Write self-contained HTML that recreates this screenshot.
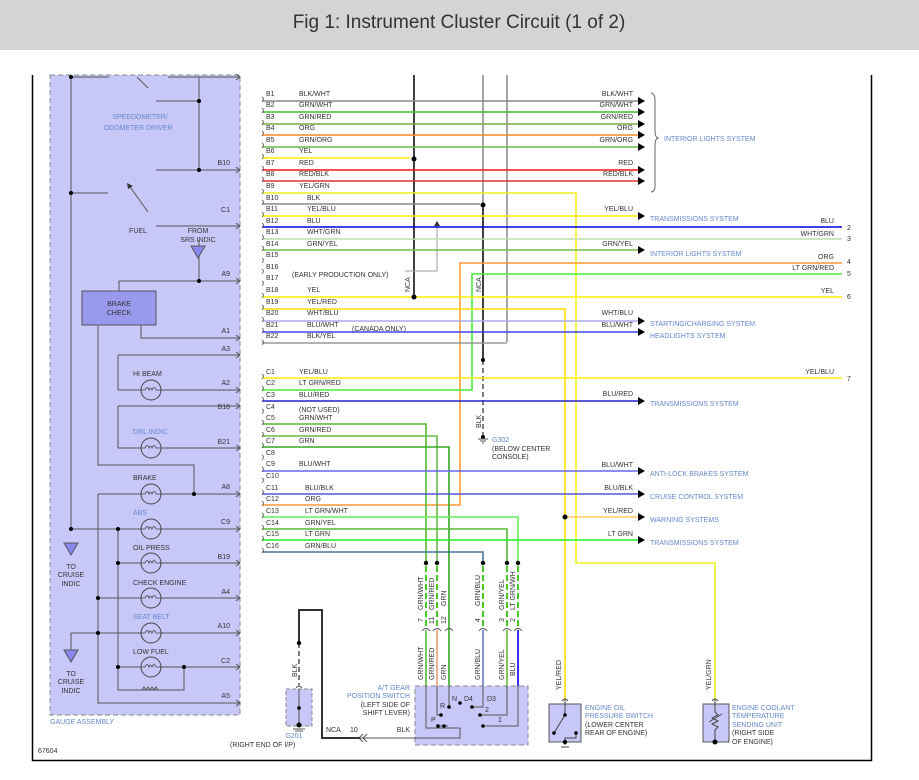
<!DOCTYPE html>
<html><head><meta charset="utf-8"><style>
html,body{margin:0;padding:0;background:#fff;}
svg{display:block;font-family:"Liberation Sans",sans-serif;}
.t{font-size:7px;fill:#333;}
.s{font-size:7px;fill:#6688cc;}
.g{font-size:7px;fill:#555;}
</style></head><body>
<svg width="919" height="780" viewBox="0 0 919 780" xmlns="http://www.w3.org/2000/svg">
<rect x="0" y="0" width="919" height="50" fill="#d4d4d4"/>
<text x="459" y="28" text-anchor="middle" style="font-size:19px;fill:#333">Fig 1: Instrument Cluster Circuit (1 of 2)</text>
<path d="M32.5,75 V760.5 H871.5 V75" fill="none" stroke="#000" stroke-width="1.5"/>
<rect x="50" y="75" width="190" height="640" fill="#c8c8f8" stroke="#888" stroke-dasharray="5,3"/>
<text x="50" y="724" class="s">GAUGE ASSEMBLY</text>
<text x="38" y="753" class="t">67604</text>
<g stroke="#555" stroke-width="1" fill="none">
<path d="M71,77 V530 M71,77 H109 M137,77 L148,88 M168,77 H240 M199,77 V170 M156,101 H199 M156,170 H240 M71,193 H108 M156,226 H240"/>
<path d="M148,212 L128,184"/>
<path d="M199,240 V281 M119,281 H240 M119,281 V291 M141,325 V338 H240 M118,355 H240 M118,355 V390 H240 M118,406 H240 M118,406 V448 H240 M98,325 V465 H194 V494 M98,494 H240 M98,494 V703 H240 M71,529 H240 M118,529 V667 M118,563 H240 M98,598 H240 M71,633 H240 M71,633 V650 M118,667 H240 M118,667 V690 H184 V667"/>
</g>
<path d="M127,183 l1,6 l5,-3z" fill="#333"/>
<g fill="#000"><circle cx="71" cy="77" r="2"/><circle cx="199" cy="101" r="2"/><circle cx="199" cy="170" r="2"/><circle cx="71" cy="193" r="2"/><circle cx="199" cy="281" r="2"/><circle cx="194" cy="494" r="2"/><circle cx="71" cy="529" r="2"/><circle cx="118" cy="529" r="2"/><circle cx="118" cy="563" r="2"/><circle cx="98" cy="598" r="2"/><circle cx="98" cy="633" r="2"/><circle cx="118" cy="667" r="2"/><circle cx="184" cy="667" r="2"/></g>
<path d="M142,690 l2,-3 l2,3 l2,-3 l2,3 l2,-3 l2,3 l2,-3 l2,3" fill="none" stroke="#555"/>
<g stroke="#555" fill="none"><path d="M236,74 l4,3 l-4,3 M236,167 l4,3 l-4,3 M236,223 l4,3 l-4,3 M236,278 l4,3 l-4,3 M236,335 l4,3 l-4,3 M236,352 l4,3 l-4,3 M236,387 l4,3 l-4,3 M236,403 l4,3 l-4,3 M236,445 l4,3 l-4,3 M236,491 l4,3 l-4,3 M236,526 l4,3 l-4,3 M236,560 l4,3 l-4,3 M236,595 l4,3 l-4,3 M236,630 l4,3 l-4,3 M236,664 l4,3 l-4,3 M236,700 l4,3 l-4,3"/></g>
<g class="t" text-anchor="end"><text x="230" y="165">B10</text><text x="230" y="212">C1</text><text x="230" y="276">A9</text><text x="230" y="333">A1</text><text x="230" y="351">A3</text><text x="230" y="385">A2</text><text x="230" y="409">B18</text><text x="230" y="444">B21</text><text x="230" y="489">A8</text><text x="230" y="524">C9</text><text x="230" y="559">B19</text><text x="230" y="594">A4</text><text x="230" y="628">A10</text><text x="230" y="663">C2</text><text x="230" y="698">A5</text></g>
<text x="140" y="119" class="s" text-anchor="middle">SPEEDOMETER/</text>
<text x="138" y="130" class="s" text-anchor="middle">ODOMETER DRIVER</text>
<text x="138" y="233" class="t" text-anchor="middle">FUEL</text>
<text x="198" y="233" class="t" text-anchor="middle">FROM</text>
<text x="198" y="242" class="t" text-anchor="middle">SRS INDIC</text>
<path d="M191,246 h14 l-7,12z" fill="#8888ee" stroke="#555"/>
<rect x="82" y="291" width="74" height="34" fill="#9999ee" stroke="#555"/>
<text x="119" y="306" class="t" text-anchor="middle">BRAKE</text><text x="119" y="315" class="t" text-anchor="middle">CHECK</text>
<g fill="#c8c8f8" stroke="#444"><circle cx="151" cy="390" r="10"/><circle cx="151" cy="448" r="10"/><circle cx="151" cy="494" r="10"/><circle cx="151" cy="529" r="10"/><circle cx="151" cy="563" r="10"/><circle cx="151" cy="598" r="10"/><circle cx="151" cy="633" r="10"/><circle cx="151" cy="667" r="10"/></g>
<g fill="none" stroke="#444" stroke-width="0.8">
<path d="M141,390 h4 q2,-5 4,0 q1,-4 3,0 q2,-5 4,0 h5 M141,448 h4 q2,-5 4,0 q1,-4 3,0 q2,-5 4,0 h5 M141,494 h4 q2,-5 4,0 q1,-4 3,0 q2,-5 4,0 h5 M141,529 h4 q2,-5 4,0 q1,-4 3,0 q2,-5 4,0 h5 M141,563 h4 q2,-5 4,0 q1,-4 3,0 q2,-5 4,0 h5 M141,598 h4 q2,-5 4,0 q1,-4 3,0 q2,-5 4,0 h5 M141,633 h4 q2,-5 4,0 q1,-4 3,0 q2,-5 4,0 h5 M141,667 h4 q2,-5 4,0 q1,-4 3,0 q2,-5 4,0 h5"/>
</g>
<g class="t"><text x="133" y="376">HI BEAM</text><text x="133" y="434" class="s">DRL INDIC</text><text x="133" y="480">BRAKE</text><text x="133" y="515" class="s">ABS</text><text x="133" y="550">OIL PRESS</text><text x="133" y="585">CHECK ENGINE</text><text x="133" y="619" class="s">SEAT BELT</text><text x="133" y="654">LOW FUEL</text></g>
<path d="M64,543 h14 l-7,12z" fill="#8888ee" stroke="#555"/>
<text x="71" y="569" class="t" text-anchor="middle">TO</text><text x="71" y="577" class="t" text-anchor="middle">CRUISE</text><text x="71" y="586" class="t" text-anchor="middle">INDIC</text>
<path d="M64,650 h14 l-7,12z" fill="#8888ee" stroke="#555"/>
<text x="71" y="676" class="t" text-anchor="middle">TO</text><text x="71" y="684" class="t" text-anchor="middle">CRUISE</text><text x="71" y="693" class="t" text-anchor="middle">INDIC</text>

<g fill="none" stroke-width="1.5">
<path d="M414,75 V298" stroke="#000"/>
<path d="M483,75 V205" stroke="#888"/>
<path d="M483,205 V360" stroke="#000"/>
<path d="M483,360 V435" stroke="#555" stroke-dasharray="5,3"/>
<path d="M507,75 V342" stroke="#888"/>
<path d="M405,271 H437 V224" stroke="#999" stroke-width="1"/>
</g>
<path d="M434,226 l3,-5 l3,5z" fill="#333"/>
<g fill="none" stroke-width="1.6">
<path d="M262,101 H640" stroke="#888"/>
<path d="M262,112 H640" stroke="#44bb33"/>
<path d="M262,124 H640" stroke="#77aa44"/>
<path d="M262,135 H640" stroke="#ff8a22"/>
<path d="M262,147 H640" stroke="#66bb44"/>
<path d="M262,158 H410" stroke="#ffee00"/>
<path d="M262,170 H640" stroke="#ff1111"/>
<path d="M262,181 H640" stroke="#dd3333"/>
<path d="M262,193 H576 V563 H715 V700" stroke="#eeee22"/>
<path d="M262,204 H480" stroke="#888"/>
<path d="M262,216 H640" stroke="#ffee00"/>
<path d="M262,227 H842" stroke="#0000ee"/>
<path d="M262,239 H842" stroke="#bbddaa"/>
<path d="M262,250 H640" stroke="#77bb44"/>
<path d="M842,263 H460 V505 H262" stroke="#ff9933"/>
<path d="M842,274 H472 V390 H262" stroke="#44ee33"/>
<path d="M262,297 H842" stroke="#ffee00"/>
<path d="M262,309 H565 V700" stroke="#ffdd00"/>
<path d="M565,517 H640" stroke="#ffcc66"/>
<path d="M262,321 H640" stroke="#aaaaee"/>
<path d="M262,332 H640" stroke="#4444ee"/>
<path d="M262,343 H507" stroke="#999"/>
<path d="M262,378 H842" stroke="#ffee00"/>
<path d="M262,401 H640" stroke="#2222cc"/>
<path d="M262,424 H426 V563" stroke="#55bb33"/>
<path d="M262,436 H437 V563" stroke="#66bb44"/>
<path d="M262,447 H449 V686" stroke="#33aa22"/>
<path d="M262,471 H640" stroke="#6666ee"/>
<path d="M262,494 H640" stroke="#5555dd"/>
<path d="M262,517 H518 V563" stroke="#66ee55"/>
<path d="M262,529 H507 V563" stroke="#55bb33"/>
<path d="M262,540 H640" stroke="#22ee22"/>
<path d="M262,552 H483 V563" stroke="#447799"/>
<g stroke-dasharray="6,3" stroke-width="2"><path d="M426,566 V626" stroke="#44cc22"/><path d="M437,566 V626" stroke="#44cc22"/><path d="M483,566 V626" stroke="#44cc22"/><path d="M507,566 V626" stroke="#44cc22"/><path d="M518,566 V626" stroke="#44cc22"/></g>
<path d="M426,630 V686" stroke="#55bb33"/><path d="M437,630 V686" stroke="#ee9977"/><path d="M483,630 V686" stroke="#6677cc"/><path d="M507,630 V686" stroke="#66bb33"/><path d="M518,630 V686" stroke="#0000ee"/>
</g>
<g fill="none" stroke="#555" stroke-width="0.8">
<path d="M262,97 q3,2 0,5 M262,108 q3,2 0,5 M262,120 q3,2 0,5 M262,131 q3,2 0,5 M262,143 q3,2 0,5 M262,154 q3,2 0,5 M262,166 q3,2 0,5 M262,177 q3,2 0,5 M262,189 q3,2 0,5 M262,200 q3,2 0,5 M262,212 q3,2 0,5 M262,223 q3,2 0,5 M262,235 q3,2 0,5 M262,246 q3,2 0,5 M262,258 q3,2 0,5 M262,269 q3,2 0,5 M262,281 q3,2 0,5 M262,293 q3,2 0,5 M262,305 q3,2 0,5 M262,317 q3,2 0,5 M262,328 q3,2 0,5 M262,340 q3,2 0,5"/>
<path d="M262,374 q3,2 0,5 M262,386 q3,2 0,5 M262,397 q3,2 0,5 M262,409 q3,2 0,5 M262,420 q3,2 0,5 M262,432 q3,2 0,5 M262,443 q3,2 0,5 M262,455 q3,2 0,5 M262,467 q3,2 0,5 M262,478 q3,2 0,5 M262,490 q3,2 0,5 M262,501 q3,2 0,5 M262,513 q3,2 0,5 M262,525 q3,2 0,5 M262,536 q3,2 0,5 M262,548 q3,2 0,5"/>
</g>
<g fill="#000"><circle cx="414" cy="159" r="2.5"/><circle cx="414" cy="297" r="2.5"/><circle cx="483" cy="205" r="2.5"/><circle cx="483" cy="360" r="2"/><circle cx="483" cy="437" r="2"/><circle cx="565" cy="517" r="2.5"/><circle cx="426" cy="563" r="2.2"/><circle cx="437" cy="563" r="2.2"/><circle cx="483" cy="563" r="2.2"/><circle cx="507" cy="563" r="2.2"/><circle cx="518" cy="563" r="2.2"/></g>
<g fill="#000"><path d="M638,97 l7,4 l-7,4z"/><path d="M638,108 l7,4 l-7,4z"/><path d="M638,120 l7,4 l-7,4z"/><path d="M638,131 l7,4 l-7,4z"/><path d="M638,143 l7,4 l-7,4z"/><path d="M638,166 l7,4 l-7,4z"/><path d="M638,177 l7,4 l-7,4z"/><path d="M638,212 l7,4 l-7,4z"/><path d="M638,246 l7,4 l-7,4z"/><path d="M638,317 l7,4 l-7,4z"/><path d="M638,328 l7,4 l-7,4z"/><path d="M638,397 l7,4 l-7,4z"/><path d="M638,467 l7,4 l-7,4z"/><path d="M638,490 l7,4 l-7,4z"/><path d="M638,513 l7,4 l-7,4z"/><path d="M638,536 l7,4 l-7,4z"/></g>
<path d="M651,93 q4,0 4,8 v30 q0,6 3,7 q-3,1 -3,7 v41 q0,6 -4,6" fill="none" stroke="#666"/>
<g class="t">
<text x="266" y="96">B1</text><text x="266" y="107">B2</text><text x="266" y="119">B3</text><text x="266" y="130">B4</text><text x="266" y="142">B5</text><text x="266" y="153">B6</text><text x="266" y="165">B7</text><text x="266" y="176">B8</text><text x="266" y="188">B9</text><text x="266" y="200">B10</text><text x="266" y="211">B11</text><text x="266" y="223">B12</text><text x="266" y="234">B13</text><text x="266" y="246">B14</text><text x="266" y="257">B15</text><text x="266" y="269">B16</text><text x="266" y="280">B17</text><text x="266" y="292">B18</text><text x="266" y="304">B19</text><text x="266" y="315">B20</text><text x="266" y="327">B21</text><text x="266" y="338">B22</text>
<text x="266" y="374">C1</text><text x="266" y="385">C2</text><text x="266" y="397">C3</text><text x="266" y="409">C4</text><text x="266" y="420">C5</text><text x="266" y="432">C6</text><text x="266" y="443">C7</text><text x="266" y="455">C8</text><text x="266" y="466">C9</text><text x="266" y="478">C10</text><text x="266" y="490">C11</text><text x="266" y="501">C12</text><text x="266" y="513">C13</text><text x="266" y="525">C14</text><text x="266" y="536">C15</text><text x="266" y="548">C16</text>
<text x="299" y="96">BLK/WHT</text><text x="299" y="107">GRN/WHT</text><text x="299" y="119">GRN/RED</text><text x="299" y="130">ORG</text><text x="299" y="142">GRN/ORG</text><text x="299" y="153">YEL</text><text x="299" y="165">RED</text><text x="299" y="176">RED/BLK</text><text x="299" y="188">YEL/GRN</text><text x="307" y="200">BLK</text><text x="307" y="211">YEL/BLU</text><text x="307" y="223">BLU</text><text x="307" y="234">WHT/GRN</text><text x="307" y="246">GRN/YEL</text><text x="292" y="277">(EARLY PRODUCTION ONLY)</text><text x="307" y="292">YEL</text><text x="307" y="304">YEL/RED</text><text x="307" y="315">WHT/BLU</text><text x="307" y="327">BLU/WHT</text><text x="352" y="331">(CANADA ONLY)</text><text x="307" y="338">BLK/YEL</text>
<text x="299" y="374">YEL/BLU</text><text x="299" y="385">LT GRN/RED</text><text x="299" y="397">BLU/RED</text><text x="299" y="412">(NOT USED)</text><text x="299" y="420">GRN/WHT</text><text x="299" y="432">GRN/RED</text><text x="299" y="443">GRN</text><text x="299" y="466">BLU/WHT</text><text x="305" y="490">BLU/BLK</text><text x="305" y="501">ORG</text><text x="305" y="513">LT GRN/WHT</text><text x="305" y="525">GRN/YEL</text><text x="305" y="536">LT GRN</text><text x="305" y="548">GRN/BLU</text>
</g>
<g class="t" text-anchor="end">
<text x="633" y="96">BLK/WHT</text><text x="633" y="107">GRN/WHT</text><text x="633" y="119">GRN/RED</text><text x="633" y="130">ORG</text><text x="633" y="142">GRN/ORG</text><text x="633" y="165">RED</text><text x="633" y="176">RED/BLK</text><text x="633" y="211">YEL/BLU</text><text x="633" y="246">GRN/YEL</text><text x="633" y="315">WHT/BLU</text><text x="633" y="327">BLU/WHT</text><text x="633" y="396">BLU/RED</text><text x="633" y="467">BLU/WHT</text><text x="633" y="490">BLU/BLK</text><text x="633" y="513">YEL/RED</text><text x="633" y="536">LT GRN</text>
<text x="834" y="223">BLU</text><text x="834" y="236">WHT/GRN</text><text x="834" y="259">ORG</text><text x="834" y="270">LT GRN/RED</text><text x="834" y="293">YEL</text><text x="834" y="374">YEL/BLU</text>
</g>
<g class="t"><text x="847" y="230">2</text><text x="847" y="241">3</text><text x="847" y="264">4</text><text x="847" y="276">5</text><text x="847" y="299">6</text><text x="847" y="381">7</text></g>
<g class="s"><text x="664" y="141">INTERIOR LIGHTS SYSTEM</text><text x="650" y="221">TRANSMISSIONS SYSTEM</text><text x="650" y="256">INTERIOR LIGHTS SYSTEM</text><text x="650" y="326">STARTING/CHARGING SYSTEM</text><text x="650" y="338">HEADLIGHTS SYSTEM</text><text x="650" y="406">TRANSMISSIONS SYSTEM</text><text x="650" y="476">ANTI-LOCK BRAKES SYSTEM</text><text x="650" y="499">CRUISE CONTROL SYSTEM</text><text x="650" y="522">WARNING SYSTEMS</text><text x="650" y="545">TRANSMISSIONS SYSTEM</text></g>
<text class="t" transform="translate(410,292) rotate(-90)">NCA</text>
<text class="t" transform="translate(481,292) rotate(-90)">NCA</text>
<text class="t" transform="translate(481,428) rotate(-90)">BLK</text>
<path d="M478,439 h10 M480,441 h6 M482,443 h2" stroke="#555"/>
<text x="492" y="442" class="s">G302</text><text x="492" y="451" class="t">(BELOW CENTER</text><text x="492" y="459" class="t">CONSOLE)</text>
<g class="t"><text transform="translate(423,610) rotate(-90)">GRN/WHT</text><text transform="translate(434,610) rotate(-90)">GRN/RED</text><text transform="translate(446,606) rotate(-90)">GRN</text><text transform="translate(480,606) rotate(-90)">GRN/BLU</text><text transform="translate(504,610) rotate(-90)">GRN/YEL</text><text transform="translate(515,610) rotate(-90)">LT GRN/WH</text>
<text transform="translate(423,622) rotate(-90)">7</text><text transform="translate(434,624) rotate(-90)">11</text><text transform="translate(446,624) rotate(-90)">12</text><text transform="translate(480,622) rotate(-90)">4</text><text transform="translate(504,622) rotate(-90)">3</text><text transform="translate(515,622) rotate(-90)">2</text>
<text transform="translate(423,680) rotate(-90)">GRN/WHT</text><text transform="translate(434,680) rotate(-90)">GRN/RED</text><text transform="translate(446,680) rotate(-90)">GRN</text><text transform="translate(480,680) rotate(-90)">GRN/BLU</text><text transform="translate(504,680) rotate(-90)">GRN/YEL</text><text transform="translate(515,676) rotate(-90)">BLU</text></g>
<g fill="none" stroke="#555"><path d="M422,631 q4,-5 8,0 M433,631 q4,-5 8,0 M445,631 q4,-5 8,0 M479,631 q4,-5 8,0 M503,631 q4,-5 8,0 M514,631 q4,-5 8,0"/></g>
<rect x="415" y="686" width="113" height="59" fill="#c8c8f8" stroke="#888" stroke-dasharray="5,3"/>
<g stroke="#555" fill="none"><path d="M426,686 V728 H460 V738 H360"/><path d="M437,686 V715 H441"/><path d="M449,686 V707"/><path d="M483,686 V707 H472"/><path d="M507,686 V715 H480"/><path d="M518,686 V726 H483"/><path d="M438,726 H448"/></g>
<g fill="#000"><circle cx="441" cy="715" r="1.8"/><circle cx="449" cy="707" r="1.8"/><circle cx="460" cy="703" r="1.8"/><circle cx="472" cy="707" r="1.8"/><circle cx="480" cy="715" r="1.8"/><circle cx="483" cy="726" r="1.8"/><circle cx="438" cy="726" r="1.8"/><circle cx="444" cy="726" r="1.8"/></g>
<g class="t"><text x="440" y="708">R</text><text x="452" y="701">N</text><text x="464" y="701">D4</text><text x="487" y="701">D3</text><text x="485" y="712">2</text><text x="498" y="722">1</text><text x="431" y="722">P</text></g>
<g class="s" text-anchor="end"><text x="410" y="690">A/T GEAR</text><text x="410" y="698">POSITION SWITCH</text></g>
<g class="t" text-anchor="end"><text x="410" y="707">(LEFT SIDE OF</text><text x="410" y="715">SHIFT LEVER)</text><text x="410" y="732">BLK</text></g>
<text x="326" y="732" class="t">NCA</text><text x="350" y="732" class="t">10</text>
<path d="M363,734 l-4,4 l4,4 M367,734 l-4,4 l4,4" fill="none" stroke="#555"/>
<path d="M360,738 H322 V610 H299 V643" fill="none" stroke="#333" stroke-width="2"/>
<path d="M299,643 V685" stroke="#555" stroke-width="1.5" stroke-dasharray="5,3"/>
<circle cx="299" cy="643" r="2.2"/>
<text class="t" transform="translate(297,677) rotate(-90)">BLK</text>
<rect x="286" y="689" width="26" height="37" fill="#c8c8f8" stroke="#888" stroke-dasharray="4,2"/>
<path d="M299,689 V726 M296,688 q3,-4 6,0" fill="none" stroke="#555"/>
<circle cx="299" cy="708" r="1.8"/><circle cx="299" cy="725" r="2.5"/>
<path d="M293,729 h12 M295,731 h8" stroke="#555"/>
<text x="294" y="738" class="s" text-anchor="middle">G201</text>
<text x="230" y="747" class="t">(RIGHT END OF I/P)</text>
<rect x="549" y="704" width="32" height="38" fill="#c8c8f8" stroke="#555"/>
<path d="M565,700 V715 L554,733 M576,733 V738 H565 V745 M562,701 q3,-4 6,0 M561,747 h8" fill="none" stroke="#444"/>
<circle cx="565" cy="715" r="1.8"/><circle cx="554" cy="733" r="1.8"/><circle cx="576" cy="733" r="1.8"/><circle cx="565" cy="742" r="2.2"/>
<text class="t" transform="translate(561,690) rotate(-90)">YEL/RED</text>
<g class="s"><text x="585" y="710">ENGINE OIL</text><text x="585" y="718">PRESSURE SWITCH</text></g>
<g class="t"><text x="585" y="727">(LOWER CENTER</text><text x="585" y="735">REAR OF ENGINE)</text></g>
<rect x="703" y="704" width="26" height="38" fill="#c8c8f8" stroke="#555"/>
<path d="M715,700 V712 l3,3 l-6,3 l6,3 l-6,3 l6,3 l-3,3 V742 M712,701 q3,-4 6,0 M709,722 L722,714" fill="none" stroke="#444"/>
<circle cx="715" cy="742" r="2.5"/>
<text class="t" transform="translate(711,690) rotate(-90)">YEL/GRN</text>
<g class="s"><text x="732" y="710">ENGINE COOLANT</text><text x="732" y="718">TEMPERATURE</text><text x="732" y="727">SENDING UNIT</text></g>
<g class="t"><text x="732" y="735">(RIGHT SIDE</text><text x="732" y="744">OF ENGINE)</text></g>
</svg>
</body></html>
